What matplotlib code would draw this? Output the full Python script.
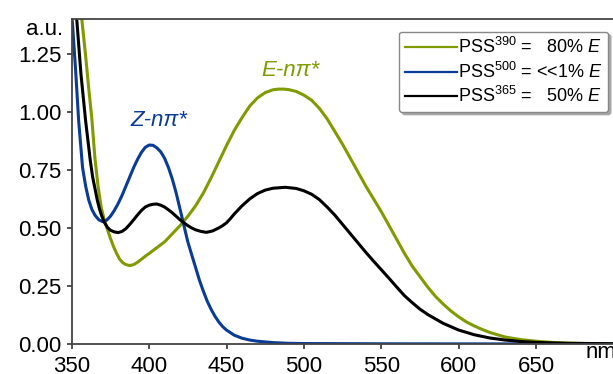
import matplotlib
matplotlib.use("Agg")
import matplotlib.pyplot as plt

plt.rcParams["font.family"] = ["Liberation Sans", "DejaVu Sans"]
plt.rcParams["mathtext.fontset"] = "custom"
plt.rcParams["mathtext.rm"] = "Liberation Sans"
plt.rcParams["mathtext.it"] = "Liberation Sans:italic"

# PSS390 (80% E) - green
wl_390 = [354, 356.5, 359, 361, 363, 365, 367, 369, 371, 373, 375, 377, 379, 381, 383,
          385, 387.5, 390, 392.5, 395, 397.5, 400, 405, 410, 415, 420, 425, 430, 435, 440,
          445, 450, 455, 460, 465, 470, 475, 480, 483.5, 487, 490, 495, 500, 505, 510,
          515, 520, 525, 530, 535, 540, 545, 550, 555, 560, 565, 570, 575, 580, 585,
          590, 595, 600, 605, 610, 615, 620, 630, 640, 650, 660, 670, 685, 700]
abs_390 = [1.56, 1.40, 1.24, 1.10, 0.97, 0.80, 0.68, 0.59, 0.535, 0.495, 0.455, 0.42, 0.39, 0.365, 0.35,
           0.342, 0.338, 0.342, 0.352, 0.365, 0.378, 0.39, 0.415, 0.44, 0.475, 0.51, 0.55, 0.595, 0.65, 0.715,
           0.785, 0.855, 0.92, 0.975, 1.025, 1.06, 1.083, 1.095, 1.098, 1.098, 1.096, 1.088, 1.072, 1.05, 1.015,
           0.97, 0.915, 0.86, 0.80, 0.74, 0.68, 0.625, 0.57, 0.51, 0.45, 0.39, 0.335, 0.29, 0.245, 0.205,
           0.172, 0.142, 0.117, 0.095, 0.078, 0.063, 0.05, 0.03, 0.019, 0.012, 0.007, 0.004, 0.002, 0.001]

# PSS500 (<<1% E) - blue
wl_500 = [349, 350.5, 352.5, 354.5, 357, 359, 361, 363, 365, 367.5, 370, 372.5, 375, 377.5, 380,
          382.5, 385, 387.5, 390, 392.5, 395, 397.5, 400, 402.5, 405, 407.5, 410, 412.5, 415, 417.5,
          420, 422.5, 425, 427.5, 430, 432.5, 435, 437.5, 440, 442.5, 445, 447.5, 450, 455, 460,
          465, 470, 480, 490, 500, 550, 700]
abs_500 = [1.50, 1.38, 1.18, 0.96, 0.76, 0.68, 0.62, 0.58, 0.555, 0.535, 0.527, 0.533, 0.55, 0.575, 0.605,
           0.64, 0.68, 0.72, 0.76, 0.795, 0.825, 0.847, 0.857, 0.856, 0.845, 0.828, 0.80, 0.76, 0.71, 0.65,
           0.58, 0.51, 0.44, 0.385, 0.33, 0.275, 0.228, 0.185, 0.15, 0.12, 0.095, 0.075, 0.06, 0.038, 0.025,
           0.017, 0.012, 0.006, 0.003, 0.002, 0.001, 0.0]

# PSS365 (50% E) - black
wl_365 = [351, 353, 356, 359, 362, 363.5, 365, 366.5, 368, 369.5, 371, 373, 375, 377.5, 380,
          382.5, 385, 387.5, 390, 392.5, 395, 397.5, 400, 402.5, 405, 407.5, 410, 412.5, 415, 417.5,
          420, 422.5, 425, 427.5, 430, 433.5, 437, 441, 445, 447.5, 450, 452.5, 455, 460, 465,
          470, 475, 480, 488, 495, 500, 505, 510, 515, 520, 525, 530, 535, 540, 545,
          550, 555, 560, 565, 570, 575, 580, 590, 600, 610, 620, 630, 640, 650, 670, 700]
abs_365 = [1.60, 1.42, 1.16, 0.96, 0.79, 0.72, 0.67, 0.62, 0.58, 0.55, 0.525, 0.503, 0.49, 0.483, 0.48,
           0.485, 0.497, 0.515, 0.535, 0.556, 0.575, 0.59, 0.598, 0.602, 0.603, 0.598, 0.59, 0.578, 0.565, 0.55,
           0.535, 0.522, 0.51, 0.50, 0.492, 0.485, 0.481, 0.487, 0.50, 0.51, 0.522, 0.54, 0.56, 0.595, 0.625,
           0.648, 0.663, 0.671, 0.675, 0.670, 0.660, 0.645, 0.622, 0.59, 0.555, 0.515, 0.475, 0.435, 0.395, 0.357,
           0.32, 0.283, 0.245, 0.208, 0.178, 0.15, 0.127, 0.089, 0.06, 0.04, 0.026, 0.017, 0.011, 0.007, 0.003, 0.001]

green = "#7f9b00"
blue = "#0a3b96"
black = "#000000"

fig = plt.figure(figsize=(6.13, 3.74), dpi=100)
ax = fig.add_axes([0.117, 0.0802, 0.8838, 0.869])

ax.plot(wl_390, abs_390, color=green, lw=2.2,
        label=r"PSS$^{390}$ =   80% $E$")
ax.plot(wl_500, abs_500, color=blue, lw=2.2,
        label=r"PSS$^{500}$ = <<1% $E$")
ax.plot(wl_365, abs_365, color=black, lw=2.2,
        label=r"PSS$^{365}$ =   50% $E$")

ax.set_xlim(350, 700)
ax.set_ylim(0, 1.4)
ax.set_xticks([350, 400, 450, 500, 550, 600, 650])
ax.set_yticks([0, 0.25, 0.5, 0.75, 1.0, 1.25])
ax.set_yticklabels(["%.2f" % t for t in [0, 0.25, 0.5, 0.75, 1.0, 1.25]])
ax.tick_params(labelsize=16, direction="out", length=3.5, width=1.2, color="#333333")
ax.tick_params(axis="x", pad=5)
ax.tick_params(axis="y", pad=4)
for s in ["left", "bottom", "top"]:
    ax.spines[s].set_color("#444444")
    ax.spines[s].set_linewidth(1.3)
ax.spines["right"].set_visible(False)

ax.text(-0.016, 1.0, "a.u.", transform=ax.transAxes, ha="right", va="top", fontsize=16)
ax.text(0.948, -0.043, "nm", transform=ax.transAxes, ha="left", va="baseline",
        fontsize=16, clip_on=False)

ax.text(491, 1.18, "E-nπ*", color=green, fontsize=16, style="italic",
        ha="center", va="center")
ax.text(406.4, 0.963, "Z-nπ*", color=blue, fontsize=16, style="italic",
        ha="center", va="center")

leg = ax.legend(loc="upper right", bbox_to_anchor=(608 / 613, 1 - 31.7 / 374),
                bbox_transform=fig.transFigure, borderaxespad=0, fontsize=13,
                handlelength=2.9, handletextpad=0.05, labelspacing=0.25,
                borderpad=0.3, fancybox=True, framealpha=1,
                shadow={"color": "0.65", "alpha": 1})
leg.get_frame().set_edgecolor("#888888")
leg.get_frame().set_linewidth(1.0)
leg.get_frame().set_boxstyle("round", pad=0, rounding_size=0.15)
for h in leg.get_lines():
    h.set_linewidth(1.6)

fig.savefig("out.png", dpi=100)
